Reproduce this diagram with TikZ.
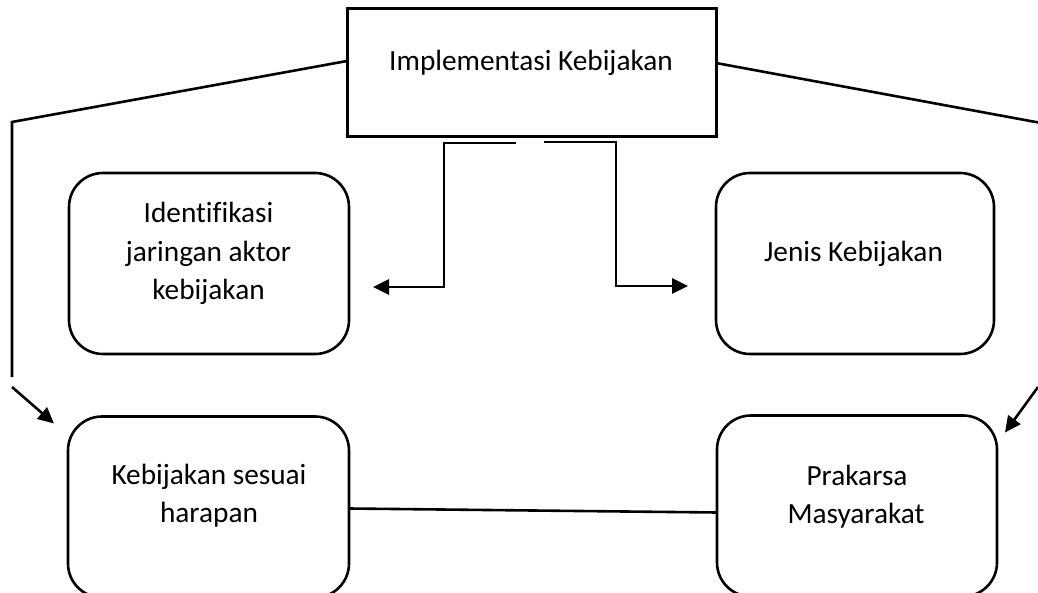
\documentclass[tikz,border=0pt]{standalone}
\usepackage{fontspec}
\setmainfont{Carlito}[Ligatures=NoCommon]
\usetikzlibrary{arrows.meta}
\begin{document}
\begin{tikzpicture}[x=1pt,y=-1pt,
  line width=2.6pt, line join=miter,
  topbox/.style={draw, rectangle, line width=3pt, minimum width=369pt, minimum height=128pt, inner sep=0pt, outer sep=0pt},
  rbox/.style={draw, rectangle, rounded corners=34pt, minimum width=280pt, minimum height=181pt, inner sep=0pt, outer sep=0pt},
  lbl/.style={anchor=base, inner sep=0pt, font=\fontsize{29.3}{38}\selectfont},
  arr/.style={-{Triangle[length=16pt,width=15pt]}},
]
\useasboundingbox (0,0) rectangle (1038,593);
\clip (0,0) rectangle (1038,593);

% boxes
\node[topbox] (top) at (531.5,73) {};
\node[rbox] (ident) at (209,263.5) {};
\node[rbox,minimum width=278pt] (jenis) at (855,263.5) {};
\node[rbox,minimum width=281pt] (harap) at (208.5,507) {};
\node[rbox] (praka) at (857,506) {};

% texts
\node[lbl] (tTop) at (531,71) {Implementasi Kebijakan};
\node[lbl] (tI1) at (208.5,223) {Identifikasi};
\node[lbl] (tI2) at (208.5,262) {jaringan aktor};
\node[lbl] (tI3) at (208.5,300) {kebijakan};
\node[lbl] (tJ) at (853.5,262) {Jenis Kebijakan};
\node[lbl] (tK1) at (209,484) {Kebijakan sesuai};
\node[lbl] (tK2) at (209,522) {harapan};
\node[lbl] (tP1) at (857,485) {Prakarsa};
\node[lbl] (tP2) at (856,523) {Masyarakat};

% left outer connector
\coordinate (lc) at (12,122);
\coordinate (lb) at (12,377);
\coordinate (la) at (12,387);
\draw ([yshift=12pt]top.west) -- (lc) -- (lb);
\draw[arr] (la) -- ([xshift=-14pt,yshift=-7pt]harap.north west);

% right outer connector
\coordinate (rc) at (1040,122.8);
\coordinate (ra) at (1038,387);
\draw ([yshift=10pt]top.east) -- (rc);
\draw[arr] (ra) -- ([xshift=8pt,yshift=-17pt]praka.north east);

% middle connectors
\draw[arr, line width=2.8pt] ([xshift=-15.5pt,yshift=-6pt]top.south) -| ([xshift=95pt,yshift=-23.5pt]ident.east) -- ([xshift=24pt,yshift=-23.5pt]ident.east);
\draw[arr, line width=2.8pt] ([xshift=12.5pt,yshift=-5pt]top.south) -| ([xshift=-100pt,yshift=-22.5pt]jenis.west) -- ([xshift=-28pt,yshift=-22.5pt]jenis.west);

% bottom connector
\draw ([yshift=-1.5pt]harap.east) -- ([yshift=-6.5pt]praka.west);
\end{tikzpicture}
\end{document}
